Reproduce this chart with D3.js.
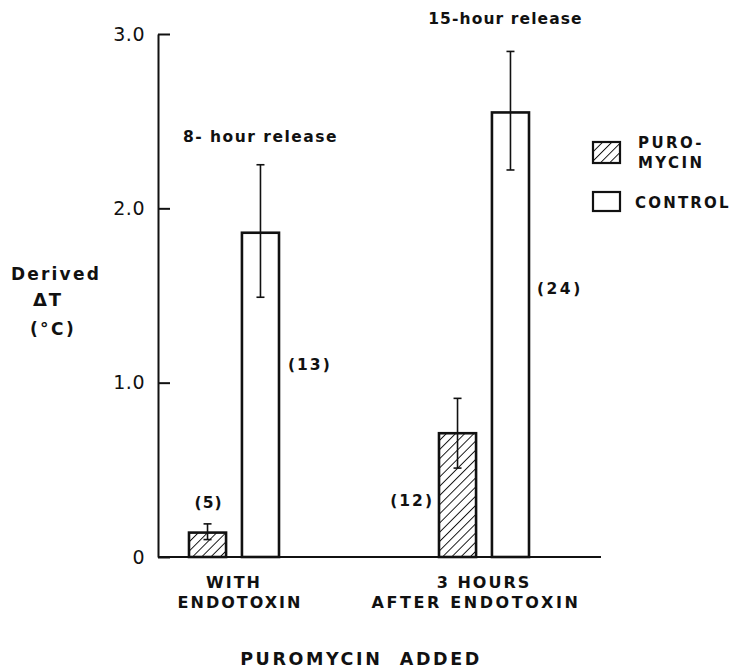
<!DOCTYPE html>
<html>
<head>
<meta charset="utf-8">
<script src="https://cdn.jsdelivr.net/npm/d3@7"></script>
<style>
  body { margin: 0; background: #fff; }
  svg { display: block; font-family: 'DejaVu Sans', sans-serif; }
  .lbl { font-weight: bold; fill: #111; }
</style>
</head>
<body>
<div id="chart"></div>
<script>
// data
const groups = ['WITH ENDOTOXIN', '3 HOURS AFTER ENDOTOXIN'];
const groupLines = [['WITH', 'ENDOTOXIN'], ['3 HOURS', 'AFTER ENDOTOXIN']];
const series = ['puromycin', 'control'];
const puromycin = [0.14, 0.71];
const puromycinLow = [0.10, 0.51];
const puromycinHigh = [0.19, 0.91];
const control = [1.86, 2.55];
const controlLow = [1.49, 2.22];
const controlHigh = [2.25, 2.90];
const puromycinN = ['(5)', '(12)'];
const controlN = ['(13)', '(24)'];
const releaseLabels = ['8- hour release', '15-hour release'];
const yTicks = [0, 1, 2, 3];
const yTickLabels = ['0', '1.0', '2.0', '3.0'];

const width = 733;
const height = 671;

const svg = d3.select('#chart')
  .append('svg')
  .attr('width', width)
  .attr('height', height);

// hatch pattern for puromycin bars
svg.append('defs')
  .append('pattern')
    .attr('id', 'hatch')
    .attr('patternUnits', 'userSpaceOnUse')
    .attr('width', 6.5)
    .attr('height', 6.5)
    .attr('patternTransform', 'rotate(45)')
  .append('line')
    .attr('x1', 0).attr('y1', 0)
    .attr('x2', 0).attr('y2', 6.5)
    .attr('stroke', '#111')
    .attr('stroke-width', 1.9);

const y = d3.scaleLinear().domain([0, 3]).range([557, 34]);
const x = d3.scalePoint().domain(groups).range([234, 484]);
const xs = d3.scaleBand().domain(series).range([-45, 45]).paddingInner(0.3);
const axisLeftX = 158;
const bw = xs.bandwidth();

// y axis, ticks pointing inward
svg.append('g')
  .attr('transform', `translate(${axisLeftX},0)`)
  .call(d3.axisLeft(y)
    .tickValues(yTicks)
    .tickFormat((d, i) => yTickLabels[i])
    .tickSizeInner(-12)
    .tickSizeOuter(0)
    .tickPadding(13))
  .call(g => g.selectAll('path, line').attr('stroke', '#111').attr('stroke-width', 2))
  .call(g => g.selectAll('text')
    .attr('font-size', 19)
    .attr('letter-spacing', 0.5)
    .attr('fill', '#111')
    .attr('font-family', 'DejaVu Sans, sans-serif'));

// x baseline
svg.append('line')
  .attr('x1', axisLeftX).attr('x2', 601)
  .attr('y1', y(0)).attr('y2', y(0))
  .attr('stroke', '#111')
  .attr('stroke-width', 2.2);

const rows = groups.map((g, i) => ({
  g,
  bars: [
    { s: 'puromycin', v: puromycin[i], lo: puromycinLow[i], hi: puromycinHigh[i] },
    { s: 'control', v: control[i], lo: controlLow[i], hi: controlHigh[i] },
  ],
}));

const grp = svg.append('g')
  .selectAll('g')
  .data(rows)
  .join('g')
    .attr('transform', d => `translate(${x(d.g)},0)`);

grp.selectAll('rect')
  .data(d => d.bars)
  .join('rect')
    .attr('x', d => xs(d.s))
    .attr('y', d => y(d.v))
    .attr('width', bw)
    .attr('height', d => y(0) - y(d.v))
    .attr('fill', d => d.s === 'puromycin' ? 'url(#hatch)' : '#fff')
    .attr('stroke', '#111')
    .attr('stroke-width', 2.6);

// error bars
const err = grp.selectAll('g.err')
  .data(d => d.bars)
  .join('g')
    .attr('class', 'err')
    .attr('stroke', '#111')
    .attr('stroke-width', 1.6);
err.append('line')
  .attr('x1', d => xs(d.s) + bw / 2).attr('x2', d => xs(d.s) + bw / 2)
  .attr('y1', d => y(d.lo)).attr('y2', d => y(d.hi));
err.append('line')
  .attr('x1', d => xs(d.s) + bw / 2 - 4).attr('x2', d => xs(d.s) + bw / 2 + 4)
  .attr('y1', d => y(d.hi)).attr('y2', d => y(d.hi));
err.append('line')
  .attr('x1', d => xs(d.s) + bw / 2 - 4).attr('x2', d => xs(d.s) + bw / 2 + 4)
  .attr('y1', d => y(d.lo)).attr('y2', d => y(d.lo));

// text helper
const lab = (txt, px, py, anchor, size, ls) => svg.append('text')
  .attr('class', 'lbl')
  .attr('x', px).attr('y', py)
  .attr('text-anchor', anchor || 'middle')
  .attr('font-size', size || 15)
  .attr('letter-spacing', ls == null ? 1.5 : ls)
  .style('white-space', 'pre')
  .text(txt);

// sample sizes
lab(puromycinN[0], x(groups[0]) + xs('puromycin') + bw / 2 + 1, y(puromycinHigh[0]) - 16, 'middle', 15.5, 1);
lab(puromycinN[1], x(groups[1]) + xs('puromycin') - 5, y(0.29), 'end', 15.5, 2);
lab(controlN[0], x(groups[0]) + xs('control') + bw + 9, y(1.07), 'start', 15.5, 2);
lab(controlN[1], x(groups[1]) + xs('control') + bw + 8, y(1.51), 'start', 15.5, 2.5);

// release labels
lab(releaseLabels[0], x(groups[0]) + xs('control') + bw / 2, y(2.38), 'middle', 15.5, 1.5);
lab(releaseLabels[1], x(groups[1]) + xs('control') + bw / 2 - 5, 24, 'middle', 15.5, 1.1);

// category labels
groupLines.forEach((lines, i) => {
  lines.forEach((t, j) => {
    lab(t, x(groups[i]) + (i === 0 && j === 1 ? 6 : 0) - (i === 1 && j === 1 ? 8 : 0), 588 + j * 19.5,
      'middle', 16, i === 1 && j === 1 ? 2.6 : 2);
  });
});

// axis titles
lab('PUROMYCIN  ADDED', 361, 665, 'middle', 17.5, 2.6);
lab('Derived', 56, 280, 'middle', 17, 2.2);
lab('\u0394T', 48, 306, 'middle', 18, 2).attr('font-weight', 'normal');
lab('(\u00b0C)', 53, 335, 'middle', 17, 2.4);

// legend
const legend = svg.append('g').attr('transform', 'translate(593,142)');
legend.append('rect')
  .attr('width', 27).attr('height', 21)
  .attr('fill', 'url(#hatch)')
  .attr('stroke', '#111').attr('stroke-width', 2.2);
legend.append('rect')
  .attr('y', 50)
  .attr('width', 27).attr('height', 19)
  .attr('fill', '#fff')
  .attr('stroke', '#111').attr('stroke-width', 2.2);
['PURO-', 'MYCIN'].forEach((t, i) => {
  legend.append('text').attr('class', 'lbl')
    .attr('x', 45).attr('y', 6 + i * 20)
    .attr('font-size', 15).attr('letter-spacing', 2.4)
    .text(t);
});
legend.append('text').attr('class', 'lbl')
  .attr('x', 42).attr('y', 66)
  .attr('font-size', 15).attr('letter-spacing', 2.2)
  .text('CONTROL');
</script>
</body>
</html>
